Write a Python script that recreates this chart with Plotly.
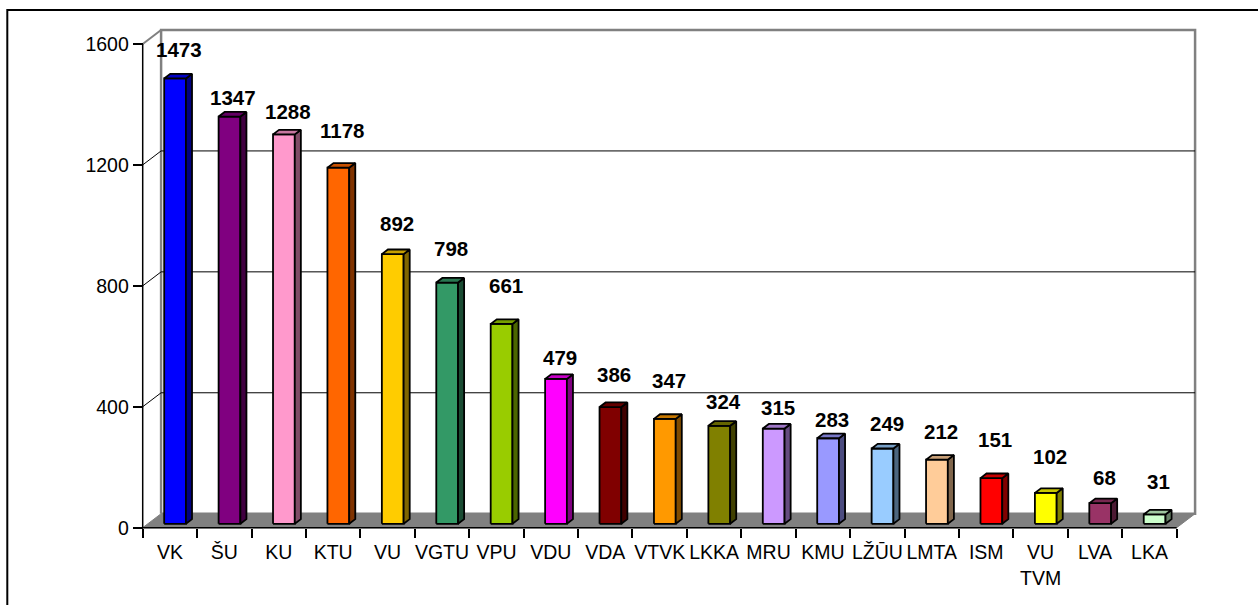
import plotly.graph_objects as go

# ---------------- data ----------------
categories = ["VK", "ŠU", "KU", "KTU", "VU", "VGTU", "VPU", "VDU", "VDA", "VTVK",
              "LKKA", "MRU", "KMU", "LŽŪU", "LMTA", "ISM", "VU TVM", "LVA", "LKA"]
values = [1473, 1347, 1288, 1178, 892, 798, 661, 479, 386, 347,
          324, 315, 283, 249, 212, 151, 102, 68, 31]
bar_colors = ["#0000FF", "#800080", "#FF99CC", "#FF6600", "#FFCC00", "#339966",
              "#99CC00", "#FF00FF", "#800000", "#FF9900", "#808000", "#CC99FF",
              "#9999FF", "#99CCFF", "#FFCC99", "#FF0000", "#FFFF00", "#993366",
              "#CCFFCC"]
y_ticks = [0, 400, 800, 1200, 1600]
# vertical lift (px) of each value label above its bar top, as placed in the original
label_lift_px = [29, 19, 23, 37, 31, 34, 38, 21, 33, 38, 24, 21, 19, 25, 28, 39, 36, 26, 33]

# ---------------- geometry / calibration ----------------
W, H = 1258, 605
X0_PX = 142.7            # pixel of x = 0 (front)
PX_PER_CAT = 54.42       # pixels per category
Y0_PX = 527.7            # pixel of value 0 (front)
PX_PER_UNIT = 483.7 / 1600.0
DX = 18.4 / PX_PER_CAT   # depth offset in x data units
DY = 14.0 / PX_PER_UNIT  # depth offset in y data units
F0, F1 = 0.28, 0.61      # bar front/back depth fractions
HALF_W = 0.2             # half bar width (category units)
N = len(categories)
YMAX = y_ticks[-1]

FONT = "Liberation Sans, Arial, sans-serif"


def shade(hexcol, k):
    h = hexcol.lstrip("#")
    r, g, b = (int(h[i:i + 2], 16) for i in (0, 2, 4))
    return "rgb(%d,%d,%d)" % (round(r * k), round(g * k), round(b * k))


fig = go.Figure()


def poly(xs, ys, fill, line_color="black", lw=1.8):
    fig.add_trace(go.Scatter(x=xs + [xs[0]], y=ys + [ys[0]], mode="lines",
                             fill="toself", fillcolor=fill,
                             line=dict(color=line_color, width=lw),
                             hoverinfo="skip", showlegend=False))


def line(xs, ys, color, lw):
    fig.add_trace(go.Scatter(x=xs, y=ys, mode="lines",
                             line=dict(color=color, width=lw),
                             hoverinfo="skip", showlegend=False))


# back wall
poly([DX, N + DX, N + DX, DX], [DY, DY, YMAX + DY, YMAX + DY], "white", "#808080", 2.5)
# gridlines on back wall and left wall
for t in y_ticks[1:-1]:
    line([0, DX, N + DX], [t, t + DY, t + DY], "black", 1)
# left wall top edge
line([0, DX], [YMAX, YMAX + DY], "#808080", 2)
# floor
poly([0, N, N + DX, DX], [0, 0, DY, DY], "#808080", "#808080", 1)
# front axis lines
line([0, N], [0, 0], "black", 1.5)
line([0, 0], [0, YMAX], "black", 1.5)

# bars
for i, (v, col) in enumerate(zip(values, bar_colors)):
    c = i + 0.5
    ax0, ay0 = F0 * DX, F0 * DY
    ax1, ay1 = F1 * DX, F1 * DY
    xl, xr = c - HALF_W, c + HALF_W
    poly([xl + ax0, xr + ax0, xr + ax0, xl + ax0], [ay0, ay0, v + ay0, v + ay0], col)
    poly([xr + ax0, xr + ax1, xr + ax1, xr + ax0], [ay0, ay1, v + ay1, v + ay0], shade(col, 0.5))
    poly([xl + ax0, xr + ax0, xr + ax1, xl + ax1], [v + ay0, v + ay0, v + ay1, v + ay1], shade(col, 0.78))
    fig.add_annotation(x=c + ax0, y=v + ay0, text=str(v), showarrow=False,
                       xshift=4, yshift=label_lift_px[i], yanchor="middle",
                       font=dict(family=FONT, size=20.5, color="black", weight="bold"))

fig.update_layout(
    width=W, height=H,
    margin=dict(l=0, r=0, t=0, b=0, pad=0),
    paper_bgcolor="white", plot_bgcolor="white",
    showlegend=False, hovermode=False,
    xaxis=dict(range=[-X0_PX / PX_PER_CAT, (W - X0_PX) / PX_PER_CAT],
               domain=[0, 1], anchor="free", position=(H - Y0_PX) / H,
               showgrid=False, zeroline=False, showline=False, fixedrange=True,
               tickmode="array", tickvals=[i + 0.5 for i in range(N)],
               ticktext=[s.replace(" ", "<br>") for s in categories],
               ticks="", ticklabelstandoff=11,
               tickfont=dict(family=FONT, size=19.5, color="black"),
               minor=dict(tickmode="array", tickvals=list(range(N + 1)),
                          ticks="outside", ticklen=9, tickwidth=1.5,
                          tickcolor="black", showgrid=False)),
    yaxis=dict(range=[-(H - Y0_PX) / PX_PER_UNIT, Y0_PX / PX_PER_UNIT],
               domain=[0, 1], anchor="free", position=X0_PX / W,
               showgrid=False, zeroline=False, showline=False, fixedrange=True,
               tickmode="array", tickvals=y_ticks, ticktext=[str(t) for t in y_ticks],
               ticks="outside", ticklen=10, tickwidth=1.5, tickcolor="black",
               tickfont=dict(family=FONT, size=19.5, color="black")),
    shapes=[dict(type="rect", xref="paper", yref="paper",
                 x0=7.3 / W, x1=1.05, y0=-0.05, y1=1 - 10.0 / H,
                 line=dict(color="black", width=2), fillcolor="rgba(0,0,0,0)")],
)

fig.write_html("out.html", config={"displayModeBar": False},
               post_script="document.body.style.margin='0';document.body.style.overflow='hidden';")
